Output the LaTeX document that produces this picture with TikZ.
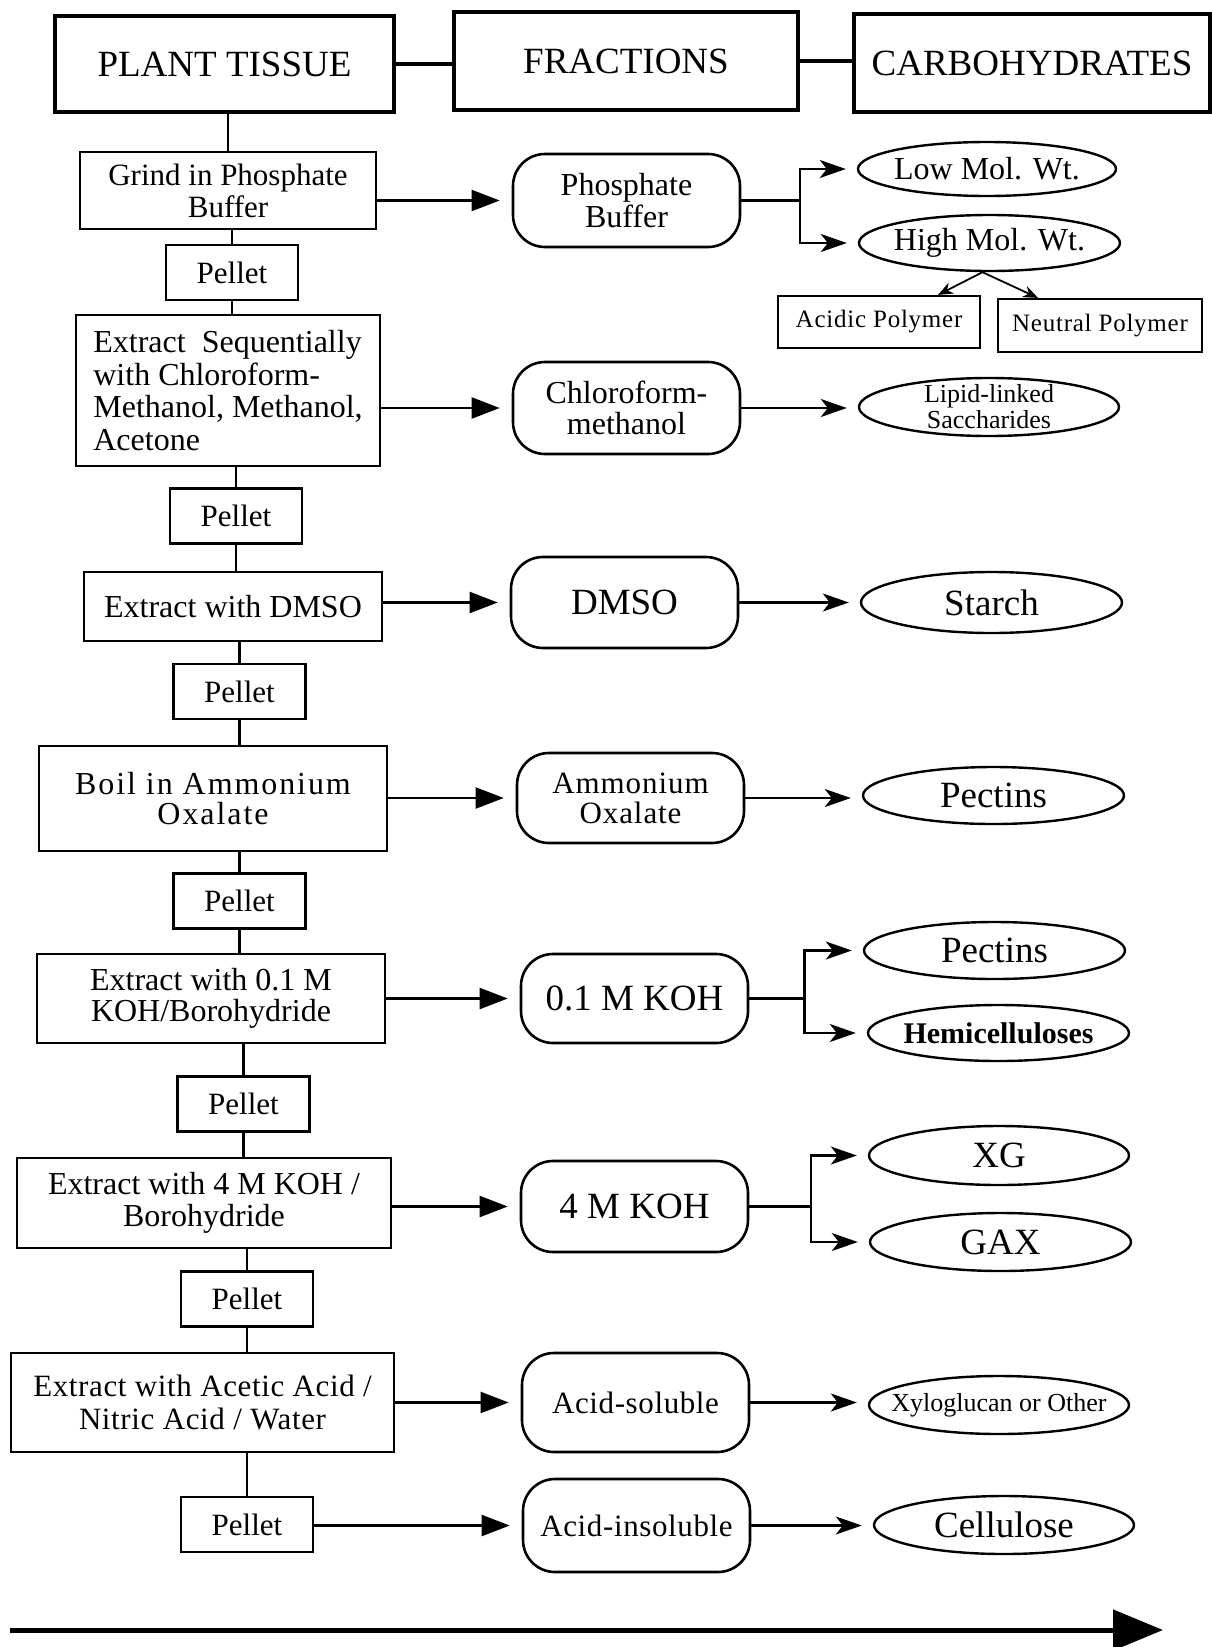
\documentclass[tikz,border=0pt]{standalone}
\usepackage{fontspec}
\setmainfont{Liberation Serif}
\usetikzlibrary{shapes.geometric,arrows.meta}

\newcommand\fsz[2]{\fontsize{#1}{#2}\selectfont}
\newcommand\wide[1]{\addfontfeatures{LetterSpace=#1}}

\tikzset{
  hdr/.style={draw, line width=3.2pt, inner sep=0pt, font=\fsz{37}{40}},
  hdrlink/.style={line width=3.4pt},
  stepbox/.style={draw, line width=2.6pt, inner sep=0pt, align=center},
  pellet/.style={stepbox, minimum width=132pt, minimum height=55pt, font=\fsz{31}{32}},
  frac/.style={draw, line width=2.6pt, rounded corners=32pt, inner sep=0pt,
    align=center, minimum width=227pt},
  carb/.style={draw, ellipse, line width=2.4pt, inner xsep=-30pt, inner ysep=-10pt,
    align=center},
  link/.style={line width=2.1pt},
  bigarrow/.style={link, -{Triangle[length=28pt,width=21pt]}, shorten >=12pt},
  arr/.style={link, -{Stealth[length=26pt,width=18pt,inset=7pt]}, shorten >=11pt},
  smallarr/.style={line width=1.8pt, -{Stealth[length=15pt,width=12pt,inset=5pt]}},
  axis/.style={line width=5pt, -{Triangle[length=50pt,width=40pt]}},
}

\begin{document}
\begin{tikzpicture}[x=1pt, y=-1pt]
\useasboundingbox (0,0) rectangle (1212,1647);

% column headings
\node[hdr, minimum width=339pt, minimum height=96pt] (pt) at (224.5,64) {PLANT TISSUE};
\node[hdr, minimum width=344pt, minimum height=98pt] (fr) at (626,61) {FRACTIONS};
\node[hdr, minimum width=356pt, minimum height=98pt] (ch) at (1032,63) {CARBOHYDRATES};
\draw[hdrlink] (pt.east) -- (pt.east -| fr.west);
\draw[hdrlink] (fr.east) -- (fr.east -| ch.west);

% extraction steps
\node[stepbox, minimum width=296pt, minimum height=77pt, font=\fsz{31}{32}] (grind) at (228,190.5) {Grind in Phosphate\\Buffer};
\node[pellet] (p1) at (232,272.5) {Pellet};
\node[stepbox, minimum width=304pt, minimum height=151pt, font=\fsz{32}{32.5}, align=left] (seq) at (228,390.5) {Extract\ \ Sequentially\\with Chloroform-\\Methanol, Methanol,\\Acetone};
\node[pellet] (p2) at (236,516) {Pellet};
\node[stepbox, minimum width=298pt, minimum height=69pt, font=\fsz{32}{33}] (dmsoext) at (233,606.5) {Extract with DMSO};
\node[pellet] (p3) at (239.5,691.5) {Pellet};
\node[stepbox, minimum width=348pt, minimum height=105pt, font=\fsz{32}{29.5}\wide{6}] (boil) at (213,798.5) {Boil in Ammonium\\Oxalate};
\node[pellet] (p4) at (239.5,901) {Pellet};
\node[stepbox, minimum width=348pt, minimum height=89pt, font=\fsz{32}{31}] (koh1ext) at (211,998.5) {Extract with 0.1 M\\KOH/Borohydride};
\node[pellet] (p5) at (243.5,1104) {Pellet};
\node[stepbox, minimum width=374pt, minimum height=90pt, font=\fsz{32}{32.5}] (koh4ext) at (204,1203) {Extract with 4 M KOH /\\Borohydride};
\node[pellet] (p6) at (247,1299) {Pellet};
\node[stepbox, minimum width=383pt, minimum height=99pt, font=\fsz{31}{32.5}\wide{2}] (acetic) at (202.5,1402.5) {Extract with Acetic Acid /\\Nitric Acid / Water};
\node[pellet] (p7) at (247,1524.5) {Pellet};

% fractions
\node[frac, minimum height=93pt, font=\fsz{32}{31.5}] (pb) at (626.5,200.5) {Phosphate\\Buffer};
\node[frac, minimum height=92pt, font=\fsz{32}{31.5}] (cm) at (626.5,408) {Chloroform-\\methanol};
\node[frac, minimum height=91pt, font=\fsz{37}{40}] (dmso) at (624.5,602.5) {DMSO};
\node[frac, minimum height=90pt, font=\fsz{31}{30}\wide{3}] (ao) at (630.5,798) {Ammonium\\Oxalate};
\node[frac, minimum height=89pt, font=\fsz{37}{40}] (koh1) at (634.5,998.5) {0.1 M KOH};
\node[frac, minimum height=91pt, font=\fsz{37}{40}] (koh4) at (634.5,1206.5) {4 M KOH};
\node[frac, minimum height=99pt, font=\fsz{31}{32}\wide{2}] (as) at (635.5,1402.5) {Acid-soluble};
\node[frac, minimum height=93pt, font=\fsz{31}{32}\wide{2}] (ai) at (636.5,1525.5) {Acid-insoluble};

% carbohydrates
\node[carb, minimum width=258pt, minimum height=54pt, font=\fsz{32}{34}] (low) at (987,169) {Low Mol. Wt.};
\node[carb, minimum width=261pt, minimum height=56pt, font=\fsz{32}{34}] (high) at (989.5,243) {High Mol. Wt.};
\node[stepbox, line width=2.2pt, minimum width=202pt, minimum height=52pt, font=\fsz{25}{26}\wide{3}] (acid) at (879,322) {Acidic Polymer};
\node[stepbox, line width=2.2pt, minimum width=204pt, minimum height=53pt, font=\fsz{25}{26}\wide{3}] (neut) at (1100,325.5) {Neutral Polymer};
\node[carb, minimum width=260pt, minimum height=58pt, font=\fsz{26}{26}] (lipid) at (989,407) {Lipid-linked\\Saccharides};
\node[carb, minimum width=261pt, minimum height=61pt, font=\fsz{37}{40}] (starch) at (991.5,602.5) {Starch};
\node[carb, minimum width=261pt, minimum height=57pt, font=\fsz{37}{40}] (pect1) at (993.5,795.5) {Pectins};
\node[carb, minimum width=261pt, minimum height=57pt, font=\fsz{37}{40}] (pect2) at (994.5,950.5) {Pectins};
\node[carb, minimum width=261pt, minimum height=56pt, font=\fsz{30}{32}\bfseries] (hemi) at (998.5,1033) {Hemicelluloses};
\node[carb, minimum width=260pt, minimum height=59pt, font=\fsz{37}{40}] (xg) at (999,1155.5) {XG};
\node[carb, minimum width=261pt, minimum height=58pt, font=\fsz{37}{40}] (gax) at (1000.5,1242) {GAX};
\node[carb, minimum width=260pt, minimum height=58pt, font=\fsz{26}{28}] (xylo) at (999,1405) {Xyloglucan or Other};
\node[carb, minimum width=260pt, minimum height=58pt, font=\fsz{37}{40}] (cell) at (1004,1525) {Cellulose};

% main spine
\draw[link] (pt.south -| grind) -- (grind.north);
\draw[link] (grind.south -| p1) -- (p1.north);
\draw[link] (p1.south) -- (p1.south |- seq.north);
\draw[link] (seq.south -| p2) -- (p2.north);
\draw[link] (p2.south) -- (p2.south |- dmsoext.north);
\draw[link] (dmsoext.south -| p3) -- (p3.north);
\draw[link] (p3.south) -- (p3.south |- boil.north);
\draw[link] (boil.south -| p4) -- (p4.north);
\draw[link] (p4.south) -- (p4.south |- koh1ext.north);
\draw[link] (koh1ext.south -| p5) -- (p5.north);
\draw[link] (p5.south) -- (p5.south |- koh4ext.north);
\draw[link] (koh4ext.south -| p6) -- (p6.north);
\draw[link] (p6.south) -- (p6.south |- acetic.north);
\draw[link] (acetic.south -| p7) -- (p7.north);

% steps to fractions
\draw[bigarrow] (grind.east |- pb) -- (pb.west);
\draw[bigarrow] (seq.east |- cm) -- (cm.west);
\draw[bigarrow] (dmsoext.east |- dmso) -- (dmso.west);
\draw[bigarrow] (boil.east |- ao) -- (ao.west);
\draw[bigarrow] (koh1ext.east |- koh1) -- (koh1.west);
\draw[bigarrow] (koh4ext.east |- koh4) -- (koh4.west);
\draw[bigarrow] (acetic.east |- as) -- (as.west);
\draw[bigarrow] (p7.east |- ai) -- (ai.west);

% fractions to carbohydrates
\coordinate (f1) at (800,0);
\coordinate (f2) at (804.5,0);
\coordinate (f3) at (811,0);
\draw[link] (pb.east) -- (pb.east -| f1);
\draw[arr] (pb.east -| f1) |- (low.west);
\draw[arr] (pb.east -| f1) |- (high.west);
\draw[smallarr] ([xshift=-7pt]high.south) -- ([xshift=59pt]acid.north);
\draw[smallarr] ([xshift=-7pt]high.south) -- ([xshift=-62pt]neut.north);
\draw[arr] (cm.east) -- (cm.east -| lipid.west);
\draw[arr] (dmso.east) -- (dmso.east -| starch.west);
\draw[arr] (ao.east) -- (ao.east -| pect1.west);
\draw[link] (koh1.east) -- (koh1.east -| f2);
\draw[arr] (koh1.east -| f2) |- (pect2.west);
\draw[arr] (koh1.east -| f2) |- (hemi.west);
\draw[link] (koh4.east) -- (koh4.east -| f3);
\draw[arr] (koh4.east -| f3) |- (xg.west);
\draw[arr] (koh4.east -| f3) |- (gax.west);
\draw[arr] (as.east) -- (as.east -| xylo.west);
\draw[arr] (ai.east) -- (ai.east -| cell.west);

% direction of the sequence
\coordinate (axs) at (10,1630);
\coordinate (axe) at (1163,1630);
\draw[axis] (axs) -- (axe);
\end{tikzpicture}
\end{document}
